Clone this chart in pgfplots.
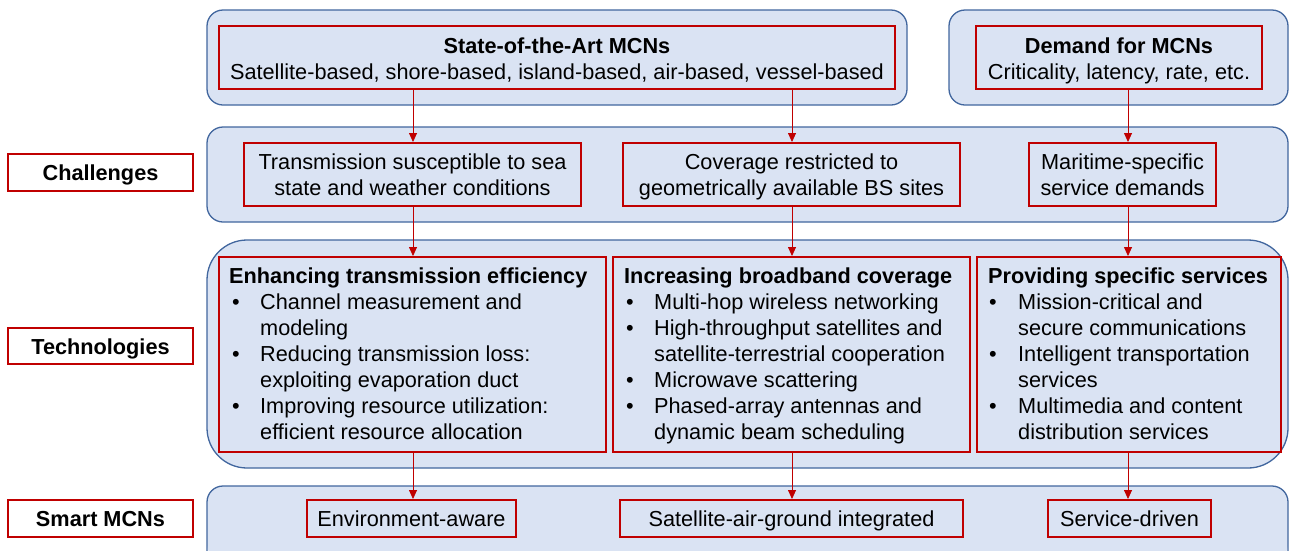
\documentclass[border=0pt]{standalone}
\usepackage{pgfplots}
\pgfplotsset{compat=1.18}
\usepackage{fontspec}
\setmainfont{Liberation Sans}
\usetikzlibrary{arrows.meta}
\definecolor{fillb}{HTML}{DAE3F3}
\definecolor{bord}{HTML}{41669E}
\definecolor{redb}{HTML}{C00000}
\begin{document}
\begin{tikzpicture}[font=\fontsize{21.7pt}{26pt}\selectfont]
\begin{axis}[scale only axis, width=1289pt, height=550pt,
  xmin=0, xmax=1289, ymin=0, ymax=550, y dir=reverse,
  hide axis, clip=true]
\path (axis cs:0,0) rectangle (axis cs:1289,550);
% outer rounded boxes
\draw[bord, line width=1.3pt, fill=fillb, rounded corners=16pt] (axis cs:207,10) rectangle (axis cs:907,105);
\draw[bord, line width=1.3pt, fill=fillb, rounded corners=16pt] (axis cs:949,10) rectangle (axis cs:1288,105);
\draw[bord, line width=1.3pt, fill=fillb, rounded corners=16pt] (axis cs:207,127) rectangle (axis cs:1288,222);
\draw[bord, line width=1.3pt, fill=fillb, rounded corners=40pt] (axis cs:207,240) rectangle (axis cs:1288,468);
\fill[fillb, rounded corners=16pt] (axis cs:207,560) -- (axis cs:207,486) -- (axis cs:1288,486) -- (axis cs:1288,560) -- cycle;
\draw[bord, line width=1.3pt, rounded corners=16pt] (axis cs:207,560) -- (axis cs:207,486) -- (axis cs:1288,486) -- (axis cs:1288,560);
% red boxes
\tikzset{rb/.style={draw=redb, line width=1.4pt}}
\draw[rb] (axis cs:219,26) rectangle (axis cs:895,89);
\draw[rb] (axis cs:976,26) rectangle (axis cs:1262,89);
\draw[rb, fill=white] (axis cs:8,154) rectangle (axis cs:193,191);
\draw[rb] (axis cs:244,143) rectangle (axis cs:581,206);
\draw[rb] (axis cs:623,143) rectangle (axis cs:960,206);
\draw[rb] (axis cs:1029,143) rectangle (axis cs:1216,206);
\draw[rb, fill=white] (axis cs:8,328) rectangle (axis cs:193,364);
\draw[rb] (axis cs:219,257) rectangle (axis cs:606,452);
\draw[rb] (axis cs:613,257) rectangle (axis cs:970,452);
\draw[rb] (axis cs:977,257) rectangle (axis cs:1281,452);
\draw[rb, fill=white] (axis cs:8,500) rectangle (axis cs:193,537);
\draw[rb] (axis cs:307,500) rectangle (axis cs:516,537);
\draw[rb] (axis cs:620,500) rectangle (axis cs:963,537);
\draw[rb] (axis cs:1048,500) rectangle (axis cs:1211,537);
% arrows
\pgfplotsset{arr/.style={color=redb, solid, mark=none, line width=0.8pt, -{Triangle[length=9pt,width=8pt]}}}
\addplot[arr] coordinates {(413,89) (413,142)};
\addplot[arr] coordinates {(413,206) (413,256)};
\addplot[arr] coordinates {(413,452) (413,499)};
\addplot[arr] coordinates {(792,89) (792,142)};
\addplot[arr] coordinates {(792,206) (792,256)};
\addplot[arr] coordinates {(792,452) (792,499)};
\addplot[arr] coordinates {(1128,89) (1128,142)};
\addplot[arr] coordinates {(1128,206) (1128,256)};
\addplot[arr] coordinates {(1128,452) (1128,499)};
% texts
\tikzset{t/.style={anchor=base, inner sep=0pt}, l/.style={anchor=base west, inner sep=0pt}}
\node[t] at (axis cs:557,53) {\bfseries State-of-the-Art MCNs};
\node[t] at (axis cs:557,79) {Satellite-based, shore-based, island-based, air-based, vessel-based};
\node[t] at (axis cs:1119,53) {\bfseries Demand for MCNs};
\node[t] at (axis cs:1119,79) {Criticality, latency, rate, etc.};
\node[t] at (axis cs:100.5,180) {\bfseries Challenges};
\node[t] at (axis cs:100.5,354) {\bfseries Technologies};
\node[t] at (axis cs:100.5,526) {\bfseries Smart MCNs};
\node[t] at (axis cs:412.5,169) {Transmission susceptible to sea};
\node[t] at (axis cs:412.5,195) {state and weather conditions};
\node[t] at (axis cs:791.5,169) {Coverage restricted to};
\node[t] at (axis cs:791.5,195) {geometrically available BS sites};
\node[t] at (axis cs:1122.5,169) {Maritime-specific};
\node[t] at (axis cs:1122.5,195) {service demands};
% column 1
\node[l] at (axis cs:229,283) {\bfseries Enhancing transmission efficiency};
\node[l] at (axis cs:232,309) {•}; \node[l] at (axis cs:260,309) {Channel measurement and};
\node[l] at (axis cs:260,335) {modeling};
\node[l] at (axis cs:232,361) {•}; \node[l] at (axis cs:260,361) {Reducing transmission loss:};
\node[l] at (axis cs:260,387) {exploiting evaporation duct};
\node[l] at (axis cs:232,413) {•}; \node[l] at (axis cs:260,413) {Improving resource utilization:};
\node[l] at (axis cs:260,439) {efficient resource allocation};
% column 2
\node[l] at (axis cs:624,283) {\bfseries Increasing broadband coverage};
\node[l] at (axis cs:626,309) {•}; \node[l] at (axis cs:654,309) {Multi-hop wireless networking};
\node[l] at (axis cs:626,335) {•}; \node[l] at (axis cs:654,335) {High-throughput satellites and};
\node[l] at (axis cs:654,361) {satellite-terrestrial cooperation};
\node[l] at (axis cs:626,387) {•}; \node[l] at (axis cs:654,387) {Microwave scattering};
\node[l] at (axis cs:626,413) {•}; \node[l] at (axis cs:654,413) {Phased-array antennas and};
\node[l] at (axis cs:654,439) {dynamic beam scheduling};
% column 3
\node[l] at (axis cs:988,283) {\bfseries Providing specific services};
\node[l] at (axis cs:989,309) {•}; \node[l] at (axis cs:1018,309) {Mission-critical and};
\node[l] at (axis cs:1018,335) {secure communications};
\node[l] at (axis cs:989,361) {•}; \node[l] at (axis cs:1018,361) {Intelligent transportation};
\node[l] at (axis cs:1018,387) {services};
\node[l] at (axis cs:989,413) {•}; \node[l] at (axis cs:1018,413) {Multimedia and content};
\node[l] at (axis cs:1018,439) {distribution services};
% smart row
\node[t] at (axis cs:411.5,526) {Environment-aware};
\node[t] at (axis cs:791.5,526) {Satellite-air-ground integrated};
\node[t] at (axis cs:1129.5,526) {Service-driven};
\end{axis}
\end{tikzpicture}
\end{document}
